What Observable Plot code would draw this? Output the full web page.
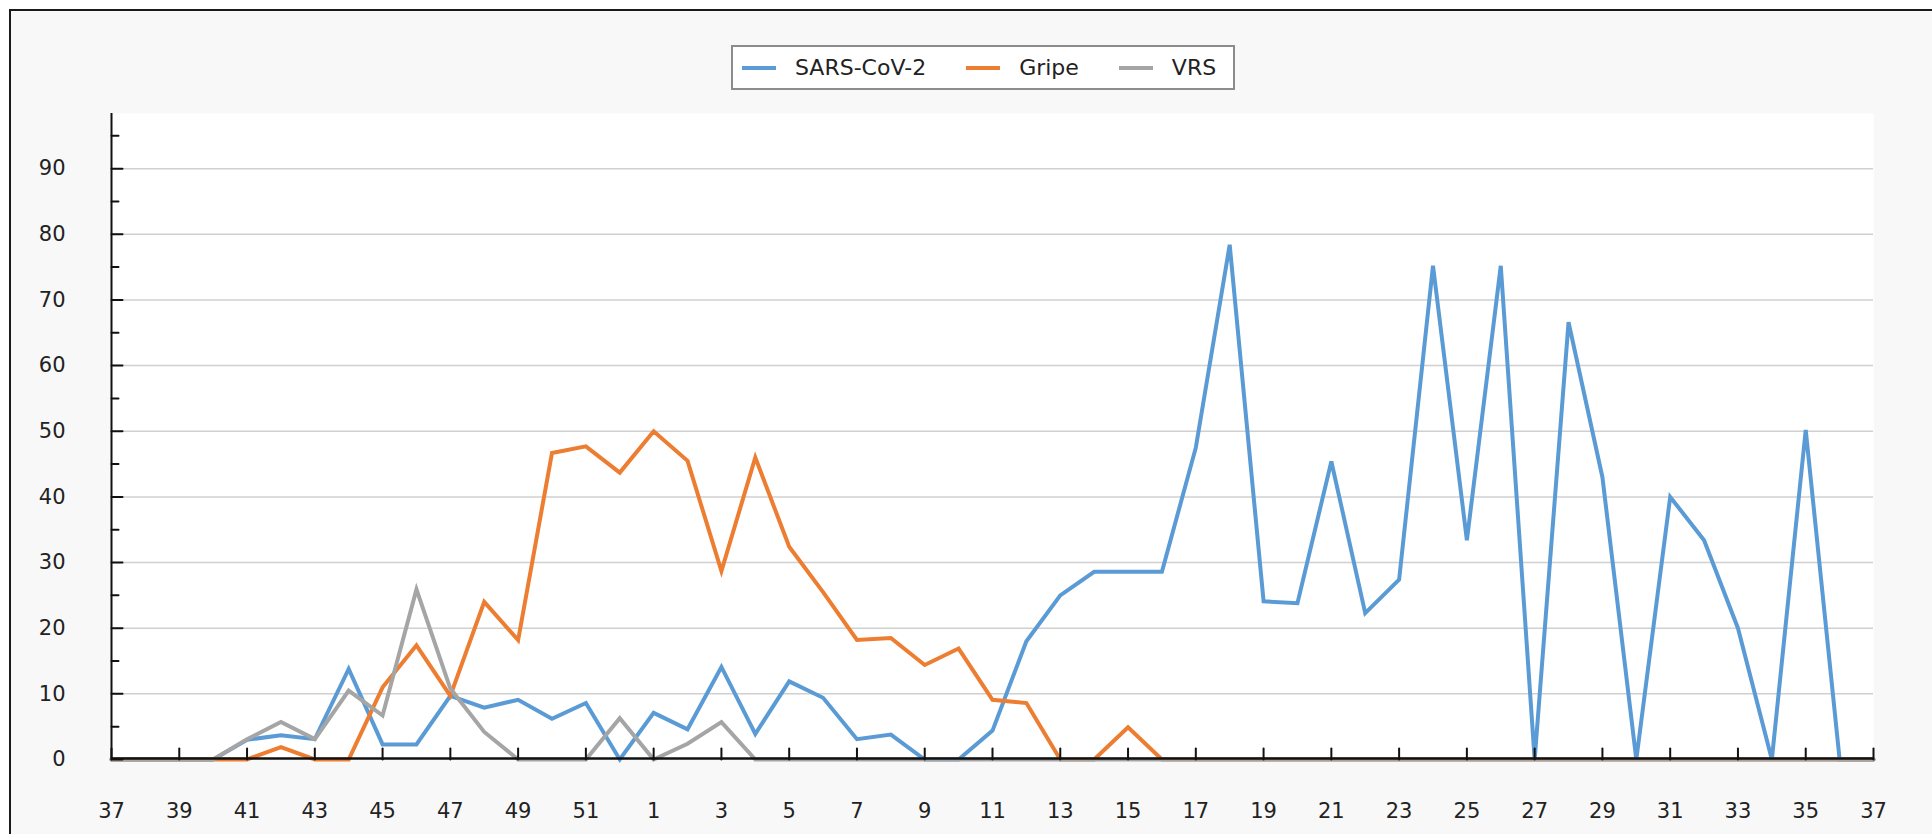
<!DOCTYPE html>
<html>
<head>
<meta charset="utf-8">
<script src="https://cdn.jsdelivr.net/npm/d3@7"></script>
<script src="https://cdn.jsdelivr.net/npm/@observablehq/plot@0.6"></script>
<style>
  html, body { margin: 0; padding: 0; background: #ffffff; width: 1932px; height: 834px; overflow: hidden; font-family: "DejaVu Sans", sans-serif; }
  #bg { position: absolute; left: 9px; top: 9px; width: 2000px; height: 900px; border-top: 2px solid #1a1a1a; border-left: 2px solid #1a1a1a; background: #f8f8f8; }
  #chart { position: absolute; left: 0; top: 0; width: 1932px; }
  #header { position: relative; height: 100px; }
  #legend { position: absolute; left: 731px; top: 45px; width: 491px; height: 41px; padding-left: 9px; border: 2px solid #8c8c8c; background: #ffffff; display: flex; align-items: center; }
  .item { display: flex; align-items: center; margin-right: 40px; }
  .item:last-child { margin-right: 0; }
  .swatch { width: 34px; height: 4px; margin-right: 19px; }
  .label { font-size: 22px; color: #222; white-space: nowrap; }
  svg { display: block; }
</style>
</head>
<body>
<div id="bg"></div>
<div id="chart">
  <div id="header"><div id="legend"></div></div>
  <div id="plot"></div>
</div>
<script>
// Epidemiological weeks (tick labels): week 37 of one year through week 37 of the next
const weekLabels = [37,38,39,40,41,42,43,44,45,46,47,48,49,50,51,52,
  1,2,3,4,5,6,7,8,9,10,11,12,13,14,15,16,17,18,19,20,21,22,23,24,25,26,27,28,29,30,31,32,33,34,35,36,37];

const seriesNames = ["SARS-CoV-2", "Gripe", "VRS"];

const sarsCov2 = [0,0,0,0,3,3.7,3.1,13.8,2.3,2.3,9.7,7.9,9.1,6.2,8.6,0,
  7.1,4.6,14.1,3.9,11.9,9.4,3.1,3.8,0,0,4.4,18,25,28.6,28.6,28.6,47.5,78.4,24.1,23.8,45.4,22.3,27.4,75.2,33.4,75.2,0,66.6,43,0,40,33.4,20,0,50.2,0,0];

const gripe = [0,0,0,0,0,1.9,0,0,11,17.4,9.7,24,18.2,46.7,47.7,43.7,
  50,45.5,28.7,46,32.4,25.5,18.2,18.5,14.4,16.9,9.1,8.6,0,0,4.9,0,0,0,0,0,0,0,0,0,0,0,0,0,0,0,0,0,0,0,0,0,0];

const vrs = [0,0,0,0,3.1,5.7,3.1,10.5,6.7,25.9,10.8,4.2,0,0,0,6.3,
  0,2.4,5.7,0,0,0,0,0,0,0,0,0,0,0,0,0,0,0,0,0,0,0,0,0,0,0,0,0,0,0,0,0,0,0,0,0,0];

const yMajorTicks = [0,10,20,30,40,50,60,70,80,90];
const yMinorTicks = [5,15,25,35,45,55,65,75,85,95];
const yGridTicks = [10,20,30,40,50,60,70,80,90];
const yTop = 98.4;

// styles
const seriesColors = ["#5b9bd5", "#ed7d31", "#a5a5a5"];

const xTickIndex = weekLabels.map((w, i) => i).filter(i => i % 2 === 0);
const seriesValues = [sarsCov2, gripe, vrs];

// legend
const legend = document.getElementById("legend");
seriesNames.forEach((name, k) => {
  const item = document.createElement("div");
  item.className = "item";
  const sw = document.createElement("div");
  sw.className = "swatch";
  sw.style.background = seriesColors[k];
  const lb = document.createElement("span");
  lb.className = "label";
  lb.textContent = name;
  item.appendChild(sw);
  item.appendChild(lb);
  legend.appendChild(item);
});

const tickShape = { draw(context, l) { context.moveTo(0, 0); context.lineTo(0, -l); } };

const lineMarks = seriesValues.map((vals, k) =>
  Plot.line(vals, {
    x: (d, i) => i, y: d => d,
    stroke: seriesColors[k], strokeWidth: 4,
    strokeLinejoin: "miter", strokeMiterlimit: 4
  })
);

const chart = Plot.plot({
  width: 1932,
  height: 734,
  marginTop: 13,
  marginBottom: 75,
  marginLeft: 111,
  marginRight: 59,
  style: { background: "transparent", fontFamily: "DejaVu Sans", fontSize: "21px", color: "#222", overflow: "visible" },
  x: { type: "linear", domain: [0, weekLabels.length - 1], label: null },
  y: { type: "linear", domain: [0, yTop], label: null },
  marks: [
    Plot.frame({ fill: "#ffffff", stroke: "none" }),
    Plot.gridY(yGridTicks, { stroke: "#d0d0d0", strokeOpacity: 1, strokeWidth: 1.5 }),
    ...lineMarks,
    Plot.ruleY([0], { stroke: "#111", strokeWidth: 2.5, dy: -1 }),
    Plot.ruleX([0], { y1: 0, y2: yTop, stroke: "#111", strokeWidth: 2 }),
    Plot.vector(xTickIndex, { x: d => d, y: 0, length: 11, rotate: 0, anchor: "start", shape: tickShape, stroke: "#111", strokeWidth: 2 }),
    Plot.vector(yMajorTicks, { x: 0, y: d => d, length: 11, rotate: 90, anchor: "start", shape: tickShape, stroke: "#111", strokeWidth: 2 }),
    Plot.vector(yMinorTicks, { x: 0, y: d => d, length: 7, rotate: 90, anchor: "start", shape: tickShape, stroke: "#111", strokeWidth: 2 }),
    Plot.axisY(yMajorTicks, { tickSize: 0, tickPadding: 46, fontSize: 21, label: null, color: "#222" }),
    Plot.axisX(xTickIndex, { tickSize: 0, tickPadding: 44, fontSize: 21, label: null, color: "#222", tickFormat: i => String(weekLabels[i]) })
  ]
});
document.getElementById("plot").appendChild(chart);
</script>
</body>
</html>
